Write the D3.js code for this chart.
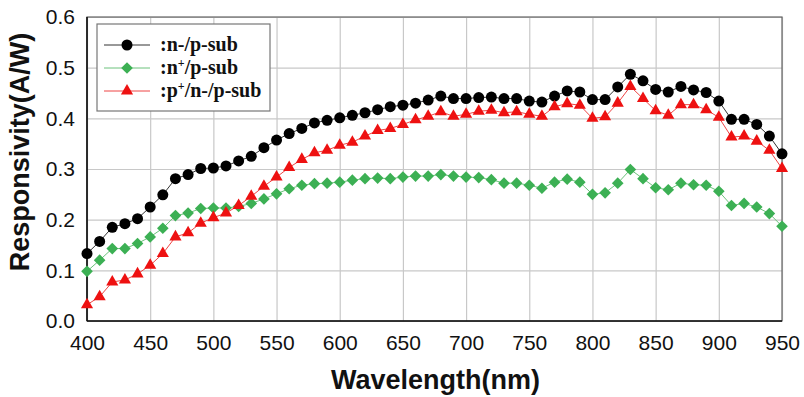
<!DOCTYPE html>
<html>
<head>
<meta charset="utf-8">
<script src="https://cdn.jsdelivr.net/npm/d3@7"></script>
<style>
  html, body { margin: 0; padding: 0; background: #fff; }
  svg { display: block; }
</style>
</head>
<body>
<svg id="chart"></svg>
<script>
// wavelength in nm, 10 nm steps
const wavelengths = d3.range(400, 951, 10);

const nMinusPSub = [
  0.133, 0.157, 0.185, 0.192, 0.202, 0.225, 0.249, 0.281, 0.289, 0.301,
  0.302, 0.306, 0.316, 0.325, 0.342, 0.357, 0.370, 0.380, 0.391, 0.396,
  0.401, 0.406, 0.411, 0.417, 0.423, 0.426, 0.430, 0.436, 0.444, 0.439,
  0.439, 0.441, 0.442, 0.439, 0.439, 0.434, 0.432, 0.444, 0.454, 0.452,
  0.437, 0.437, 0.462, 0.487, 0.474, 0.457, 0.452, 0.463, 0.456, 0.451,
  0.434, 0.398, 0.398, 0.388, 0.365, 0.330
];

const nPlusPSub = [
  0.098, 0.120, 0.143, 0.143, 0.153, 0.166, 0.183, 0.208, 0.213, 0.222,
  0.223, 0.223, 0.226, 0.232, 0.241, 0.251, 0.261, 0.268, 0.271, 0.272,
  0.274, 0.278, 0.281, 0.282, 0.281, 0.284, 0.286, 0.286, 0.289, 0.286,
  0.284, 0.283, 0.279, 0.272, 0.272, 0.268, 0.262, 0.274, 0.280, 0.274,
  0.250, 0.253, 0.272, 0.299, 0.281, 0.263, 0.259, 0.272, 0.269, 0.268,
  0.256, 0.228, 0.232, 0.225, 0.212, 0.187
];

const pPlusNMinusPSub = [
  0.032, 0.048, 0.077, 0.081, 0.093, 0.110, 0.133, 0.166, 0.174, 0.193,
  0.204, 0.213, 0.228, 0.246, 0.266, 0.284, 0.303, 0.319, 0.332, 0.337,
  0.347, 0.353, 0.365, 0.376, 0.380, 0.388, 0.397, 0.404, 0.413, 0.404,
  0.408, 0.414, 0.416, 0.411, 0.413, 0.408, 0.404, 0.423, 0.429, 0.426,
  0.400, 0.403, 0.430, 0.463, 0.439, 0.415, 0.406, 0.427, 0.427, 0.417,
  0.402, 0.363, 0.365, 0.355, 0.337, 0.301
];

const xTicks = [400, 450, 500, 550, 600, 650, 700, 750, 800, 850, 900, 950];
const yTicks = [0.0, 0.1, 0.2, 0.3, 0.4, 0.5, 0.6];

const series = [
  { name: 'nminus', values: nMinusPSub, color: '#000000', line: '#333333', shape: 'circle',
    label: [':n-/p-sub'] },
  { name: 'nplus', values: nPlusPSub, color: '#3cb054', line: '#6cc27c', shape: 'diamond',
    label: [':n', '+', '/p-sub'] },
  { name: 'pplus', values: pPlusNMinusPSub, color: '#ee1111', line: '#ee4444', shape: 'triangle',
    label: [':p', '+', '/n-/p-sub'] }
];

const width = 804, height = 397;
const margin = { top: 17, right: 22, bottom: 76, left: 87 };
const innerW = width - margin.left - margin.right;
const innerH = height - margin.top - margin.bottom;

const svg = d3.select('#chart').attr('width', width).attr('height', height);
svg.append('rect').attr('width', width).attr('height', height).attr('fill', '#fff');

const g = svg.append('g').attr('transform', 'translate(' + margin.left + ',' + margin.top + ')');

const x = d3.scaleLinear().domain([400, 950]).range([0, innerW]);
const y = d3.scaleLinear().domain([0, 0.6]).range([innerH, 0]);

// gridlines
g.append('g')
  .attr('class', 'grid-x')
  .call(d3.axisBottom(x).tickValues(xTicks).tickSize(innerH).tickFormat(''))
  .call(s => s.select('.domain').remove())
  .selectAll('line').attr('stroke', '#c8c8c8').attr('stroke-width', 1.2);

g.append('g')
  .attr('class', 'grid-y')
  .call(d3.axisLeft(y).tickValues(yTicks).tickSize(-innerW).tickFormat(''))
  .call(s => s.select('.domain').remove())
  .selectAll('line').attr('stroke', '#c8c8c8').attr('stroke-width', 1.2);

// frame
g.append('rect')
  .attr('width', innerW).attr('height', innerH)
  .attr('fill', 'none').attr('stroke', '#666').attr('stroke-width', 1.2);
g.append('line')
  .attr('x1', 0).attr('x2', 0).attr('y1', 0).attr('y2', innerH)
  .attr('stroke', '#111').attr('stroke-width', 1.6);
g.append('line')
  .attr('x1', 0).attr('x2', innerW).attr('y1', innerH).attr('y2', innerH)
  .attr('stroke', '#111').attr('stroke-width', 1.6);

// axes labels
const xAxis = g.append('g')
  .attr('transform', 'translate(0,' + innerH + ')')
  .call(d3.axisBottom(x).tickValues(xTicks).tickSize(0).tickPadding(14).tickFormat(d3.format('d')));
xAxis.select('.domain').remove();
xAxis.selectAll('text')
  .attr('font-family', 'Liberation Sans, Arial, sans-serif')
  .attr('font-size', 21).attr('fill', '#111');

const yAxis = g.append('g')
  .call(d3.axisLeft(y).tickValues(yTicks).tickSize(0).tickPadding(12).tickFormat(d3.format('.1f')));
yAxis.select('.domain').remove();
yAxis.selectAll('text')
  .attr('font-family', 'Liberation Sans, Arial, sans-serif')
  .attr('font-size', 21).attr('fill', '#111');

svg.append('text')
  .attr('x', margin.left + innerW / 2 + 1).attr('y', 389)
  .attr('text-anchor', 'middle')
  .attr('font-family', 'Liberation Sans, Arial, sans-serif')
  .attr('font-weight', 'bold').attr('font-size', 27).attr('fill', '#111')
  .text('Wavelength(nm)');

svg.append('text')
  .attr('transform', 'translate(29,' + 152 + ') rotate(-90)')
  .attr('text-anchor', 'middle')
  .attr('font-family', 'Liberation Sans, Arial, sans-serif')
  .attr('font-weight', 'bold').attr('font-size', 27).attr('fill', '#111')
  .text('Responsivity(A/W)');

// symbols
const symbolFor = {
  circle: d3.symbol().type(d3.symbolCircle).size(95),
  diamond: d3.symbol().type(d3.symbolSquare).size(68),
  triangle: d3.symbol().type(d3.symbolTriangle).size(64)
};

const line = d3.line()
  .x((d, i) => x(wavelengths[i]))
  .y(d => y(d));

series.forEach(s => {
  g.append('path')
    .datum(s.values)
    .attr('fill', 'none')
    .attr('stroke', s.line)
    .attr('stroke-width', 1)
    .attr('d', line);
  g.append('g')
    .selectAll('path')
    .data(s.values)
    .join('path')
    .attr('d', symbolFor[s.shape])
    .attr('transform', (d, i) => 'translate(' + x(wavelengths[i]) + ',' + y(d) + ')' +
      (s.shape === 'diamond' ? ' rotate(45)' : ''))
    .attr('fill', s.color);
});

// legend
const legend = svg.append('g').attr('transform', 'translate(97,24)');
legend.append('rect')
  .attr('width', 173).attr('height', 87)
  .attr('fill', '#fff').attr('stroke', '#777').attr('stroke-width', 1.2);

series.forEach((s, i) => {
  const row = legend.append('g').attr('transform', 'translate(0,' + (21 + i * 23) + ')');
  row.append('line')
    .attr('x1', 7).attr('x2', 53).attr('y1', 0).attr('y2', 0)
    .attr('stroke', s.line).attr('stroke-width', 1);
  row.append('path')
    .attr('d', symbolFor[s.shape])
    .attr('transform', 'translate(30,0)' + (s.shape === 'diamond' ? ' rotate(45)' : ''))
    .attr('fill', s.color);
  const t = row.append('text')
    .attr('x', 63).attr('y', 6)
    .attr('font-family', 'Liberation Serif, Times New Roman, serif')
    .attr('font-weight', 'bold').attr('font-size', 20).attr('fill', '#111');
  s.label.forEach((part, j) => {
    if (part === '+') {
      t.append('tspan').attr('dy', -7).attr('font-size', 12).text(part);
    } else {
      const ts = t.append('tspan').text(part);
      if (j > 0) ts.attr('dy', 7);
    }
  });
});
</script>
</body>
</html>
